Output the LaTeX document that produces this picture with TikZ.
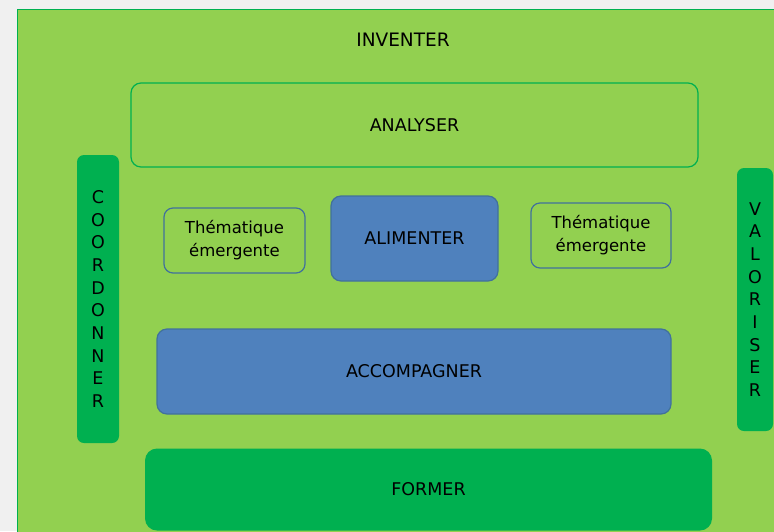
\documentclass[tikz,border=0pt]{standalone}
\usepackage{fontspec}
\setmainfont{DejaVu Sans}
\definecolor{vertclair}{HTML}{92D050}
\definecolor{vertfonce}{HTML}{00B050}
\definecolor{bleu}{HTML}{4F81BD}
\definecolor{bleubord}{HTML}{41719C}
\definecolor{fond}{HTML}{F0F0F0}
\newcommand{\boxFont}[0]{\fontsize{17.5}{22.7}\selectfont}

\begin{document}
\begin{tikzpicture}[x=1pt, y=-1pt]
  \tikzset{every node/.style={font=\boxFont, text=black, align=center, inner sep=0pt},
    cadre/.style={rounded corners=10pt, draw=vertfonce, line width=1.2pt},
    pilier/.style={rounded corners=7pt, fill=vertfonce},
    bloc/.style={rounded corners=10pt, fill=bleu, draw=bleubord, line width=1.2pt},
    theme/.style={rounded corners=9pt, draw=bleubord, line width=1.2pt,
      font=\fontsize{16.5}{23}\selectfont}}
  \useasboundingbox (0,0) rectangle (774,531);
  \clip (0,0) rectangle (774,531);
  \fill[fond] (0,0) rectangle (774,531);
  \draw[fill=vertclair, draw=vertfonce, line width=1pt] (17,9) rectangle (790,545);
  \node (inventer) at (403,40) {\fontsize{18.5}{20}\selectfont INVENTER};
  \node[cadre, minimum width=567pt, minimum height=84pt] (analyser) at (414.5,125) {ANALYSER};
  \node[pilier, minimum width=42pt, minimum height=288pt] (coordonner) at (98,299)
    {C\\O\\O\\R\\D\\O\\N\\N\\E\\R};
  \node[pilier, minimum width=36pt, minimum height=263pt] (valoriser) at (755,299.5)
    {V\\A\\L\\O\\R\\I\\S\\E\\R};
  \node[theme, minimum width=141pt, minimum height=65pt] (theme-1) at (234.5,240.5)
    {Thématique\\émergente};
  \node[bloc, minimum width=167pt, minimum height=85pt] (alimenter) at (414.5,238.5) {ALIMENTER};
  \node[theme, minimum width=140pt, minimum height=65pt] (theme-2) at (601,235.5)
    {Thématique\\émergente};
  \node[bloc, minimum width=514pt, minimum height=85pt] (accompagner) at (414,371.5) {ACCOMPAGNER};
  \node[pilier, rounded corners=12pt, minimum width=567pt, minimum height=82pt] (former) at (428.5,489.5) {FORMER};
\end{tikzpicture}
\end{document}
